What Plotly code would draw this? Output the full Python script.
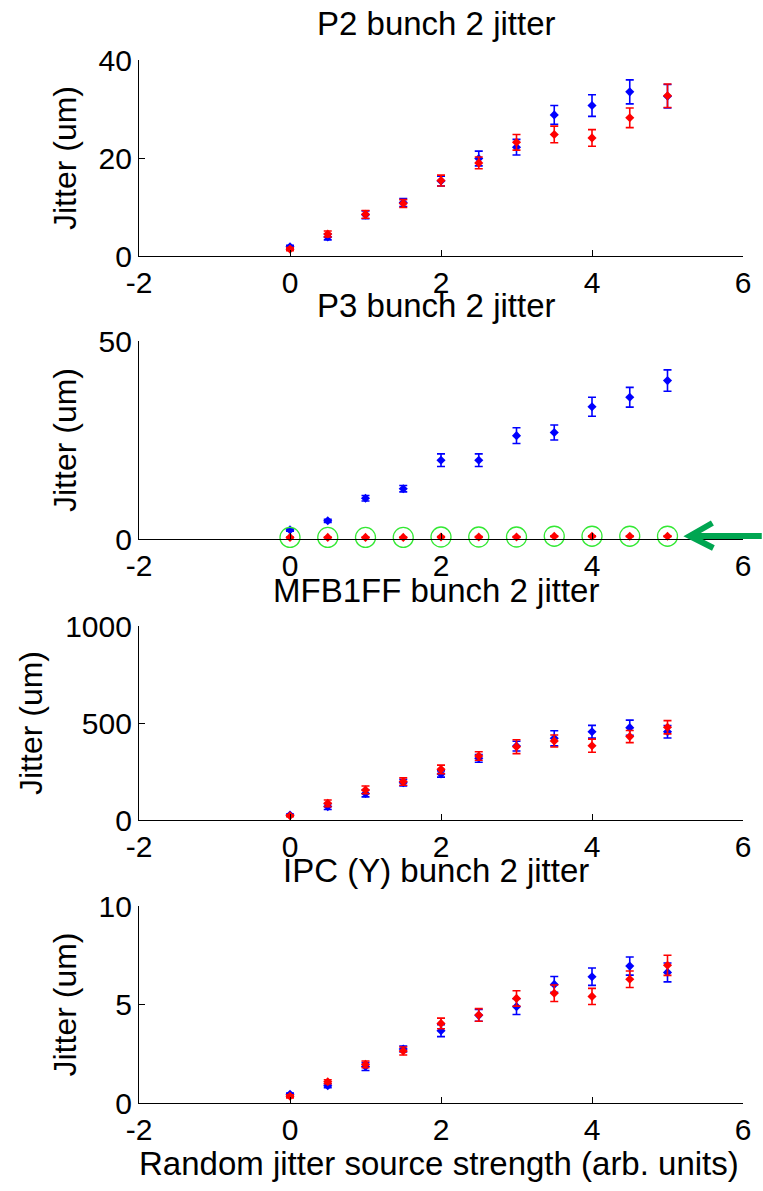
import plotly.graph_objects as go

# ---------------- data ----------------
x_strength = [0, 0.5, 1, 1.5, 2, 2.5, 3, 3.5, 4, 4.5, 5]

p2_blue = [1.9, 3.9, 8.4, 10.9, 15.3, 19.9, 22.2, 28.8, 30.7, 33.5, 32.6]
p2_blue_err = [0.3, 0.6, 0.8, 0.8, 1.0, 1.5, 1.6, 1.9, 2.2, 2.45, 2.4]
p2_red = [1.4, 4.5, 8.5, 10.7, 15.4, 19.0, 23.2, 24.8, 24.1, 28.2, 32.7]
p2_red_err = [0.3, 0.6, 0.8, 0.8, 1.1, 1.2, 1.6, 1.7, 1.7, 2.0, 2.4]

p3_blue = [2.3, 4.6, 10.3, 12.7, 19.9, 19.9, 26.1, 26.9, 33.4, 35.8, 40.0]
p3_blue_err = [0.3, 0.4, 0.7, 0.8, 1.6, 1.6, 2.0, 1.9, 2.4, 2.5, 2.7]
p3_red = [0.4, 0.4, 0.4, 0.4, 0.5, 0.5, 0.5, 0.7, 0.7, 0.7, 0.7]
p3_red_err = [0.1, 0.1, 0.1, 0.1, 0.1, 0.1, 0.1, 0.1, 0.1, 0.1, 0.1]
p3_highlight = [0.4, 0.4, 0.4, 0.4, 0.5, 0.5, 0.5, 0.7, 0.7, 0.7, 0.7]

mfb_blue = [26, 69, 137, 192, 237, 318, 381, 421, 455, 476, 455]
mfb_blue_err = [5, 15, 18, 17, 16, 20, 25, 39, 33, 39, 32]
mfb_red = [22, 86, 155, 198, 261, 330, 378, 407, 383, 430, 478]
mfb_red_err = [5, 17, 20, 19, 22, 22, 36, 31, 34, 31, 34]

ipc_blue = [0.44, 0.88, 1.85, 2.74, 3.67, 4.45, 4.89, 6.02, 6.41, 6.95, 6.63]
ipc_blue_err = [0.06, 0.1, 0.2, 0.15, 0.3, 0.3, 0.4, 0.4, 0.44, 0.46, 0.48]
ipc_red = [0.34, 1.08, 1.96, 2.64, 4.04, 4.47, 5.31, 5.57, 5.41, 6.28, 6.99]
ipc_red_err = [0.08, 0.1, 0.17, 0.2, 0.27, 0.32, 0.39, 0.42, 0.41, 0.42, 0.51]

titles = ["P2 bunch 2 jitter", "P3 bunch 2 jitter", "MFB1FF bunch 2 jitter", "IPC (Y) bunch 2 jitter"]
y_label = "Jitter (um)"
x_label = "Random jitter source strength (arb. units)"
x_ticks = [-2, 0, 2, 4, 6]
y_ticks = [[0, 20, 40], [0, 50], [0, 500, 1000], [0, 5, 10]]
y_ranges = [[0, 40], [0, 50], [0, 1000], [0, 10]]

# ---------------- layout helpers ----------------
W, H = 763, 1191
ML, MR, MT, MB = 139, 12, 60, 88
PW = W - ML - MR
PH = H - MT - MB
panels_px = [(60, 256), (341, 539), (626, 820), (906, 1103)]


def py2paper(py):
    return (H - MB - py) / PH


def px2paper(px):
    return (px - ML) / PW


FONT = "Liberation Sans, Arial, sans-serif"
BLUE = "#0000ff"
RED = "#ff0000"

fig = go.Figure()

series = [
    (p2_blue, p2_blue_err, p2_red, p2_red_err),
    (p3_blue, p3_blue_err, p3_red, p3_red_err),
    (mfb_blue, mfb_blue_err, mfb_red, mfb_red_err),
    (ipc_blue, ipc_blue_err, ipc_red, ipc_red_err),
]

for i, (b, be, r, re_) in enumerate(series):
    xa = "x" if i == 0 else f"x{i+1}"
    ya = "y" if i == 0 else f"y{i+1}"
    for vals, errs, col in [(b, be, BLUE), (r, re_, RED)]:
        fig.add_trace(go.Scatter(
            x=x_strength, y=vals, mode="markers", xaxis=xa, yaxis=ya,
            marker=dict(symbol="diamond", size=7, color=col),
            error_y=dict(type="data", array=errs, visible=True, color=col,
                         thickness=1.6, width=4),
            cliponaxis=False, showlegend=False, hoverinfo="skip"))
    if i == 1:
        fig.add_trace(go.Scatter(
            x=x_strength, y=p3_highlight, mode="markers", xaxis=xa, yaxis=ya,
            marker=dict(symbol="circle-open", size=20, color="#33e833",
                        line=dict(width=1.3, color="#33e833")),
            cliponaxis=False, showlegend=False, hoverinfo="skip"))

layout = dict(
    width=W, height=H,
    margin=dict(l=ML, r=MR, t=MT, b=MB),
    paper_bgcolor="white", plot_bgcolor="white",
    font=dict(family=FONT, size=30, color="black"),
    showlegend=False,
)

for i in range(4):
    top, bot = panels_px[i]
    xk = "xaxis" if i == 0 else f"xaxis{i+1}"
    yk = "yaxis" if i == 0 else f"yaxis{i+1}"
    ya = "y" if i == 0 else f"y{i+1}"
    xa = "x" if i == 0 else f"x{i+1}"
    layout[xk] = dict(
        domain=[0, 1], anchor=ya, range=[-2, 6], tickvals=x_ticks,
        ticktext=[str(t) for t in x_ticks],
        showline=True, linecolor="black", linewidth=1.2, mirror=False,
        ticks="inside", ticklen=6, tickwidth=1.2, tickcolor="black",
        showgrid=False, zeroline=False,
        tickfont=dict(family=FONT, size=30, color="black"),
    )
    layout[yk] = dict(
        domain=[py2paper(bot), py2paper(top)], anchor=xa, range=y_ranges[i],
        tickvals=y_ticks[i], ticktext=[str(t) for t in y_ticks[i]],
        showline=True, linecolor="black", linewidth=1.2, mirror=False,
        ticks="inside", ticklen=6, tickwidth=1.2, tickcolor="black",
        showgrid=False, zeroline=False,
        tickfont=dict(family=FONT, size=30, color="black"),
        title=dict(text=y_label, font=dict(family=FONT, size=32, color="black"),
                   standoff=12),
    )

fig.update_layout(**layout)

# titles
title_y_px = [24, 305, 590, 870]
for t, ty in zip(titles, title_y_px):
    fig.add_annotation(text=t, xref="paper", yref="paper", x=px2paper(440),
                       y=py2paper(ty), xanchor="center", yanchor="middle",
                       showarrow=False,
                       font=dict(family=FONT, size=33, color="black"))

# x label
fig.add_annotation(text=x_label, xref="paper", yref="paper", x=px2paper(443),
                   y=py2paper(1163), xanchor="center", yanchor="middle",
                   showarrow=False, font=dict(family=FONT, size=33, color="black"))

# green arrow pointing at the P3 points
AG = "#00a651"
tip = (697, 536)
fig.add_shape(type="line", xref="paper", yref="paper",
              x0=px2paper(tip[0] + 4), y0=py2paper(tip[1]),
              x1=px2paper(770), y1=py2paper(tip[1]),
              line=dict(color=AG, width=6))
fig.add_shape(type="path", xref="paper", yref="paper",
              path=(f"M {px2paper(720)},{py2paper(523)} "
                    f"L {px2paper(tip[0])},{py2paper(tip[1])} "
                    f"L {px2paper(721)},{py2paper(548)}"),
              line=dict(color=AG, width=6))

fig.write_html("out.html")
